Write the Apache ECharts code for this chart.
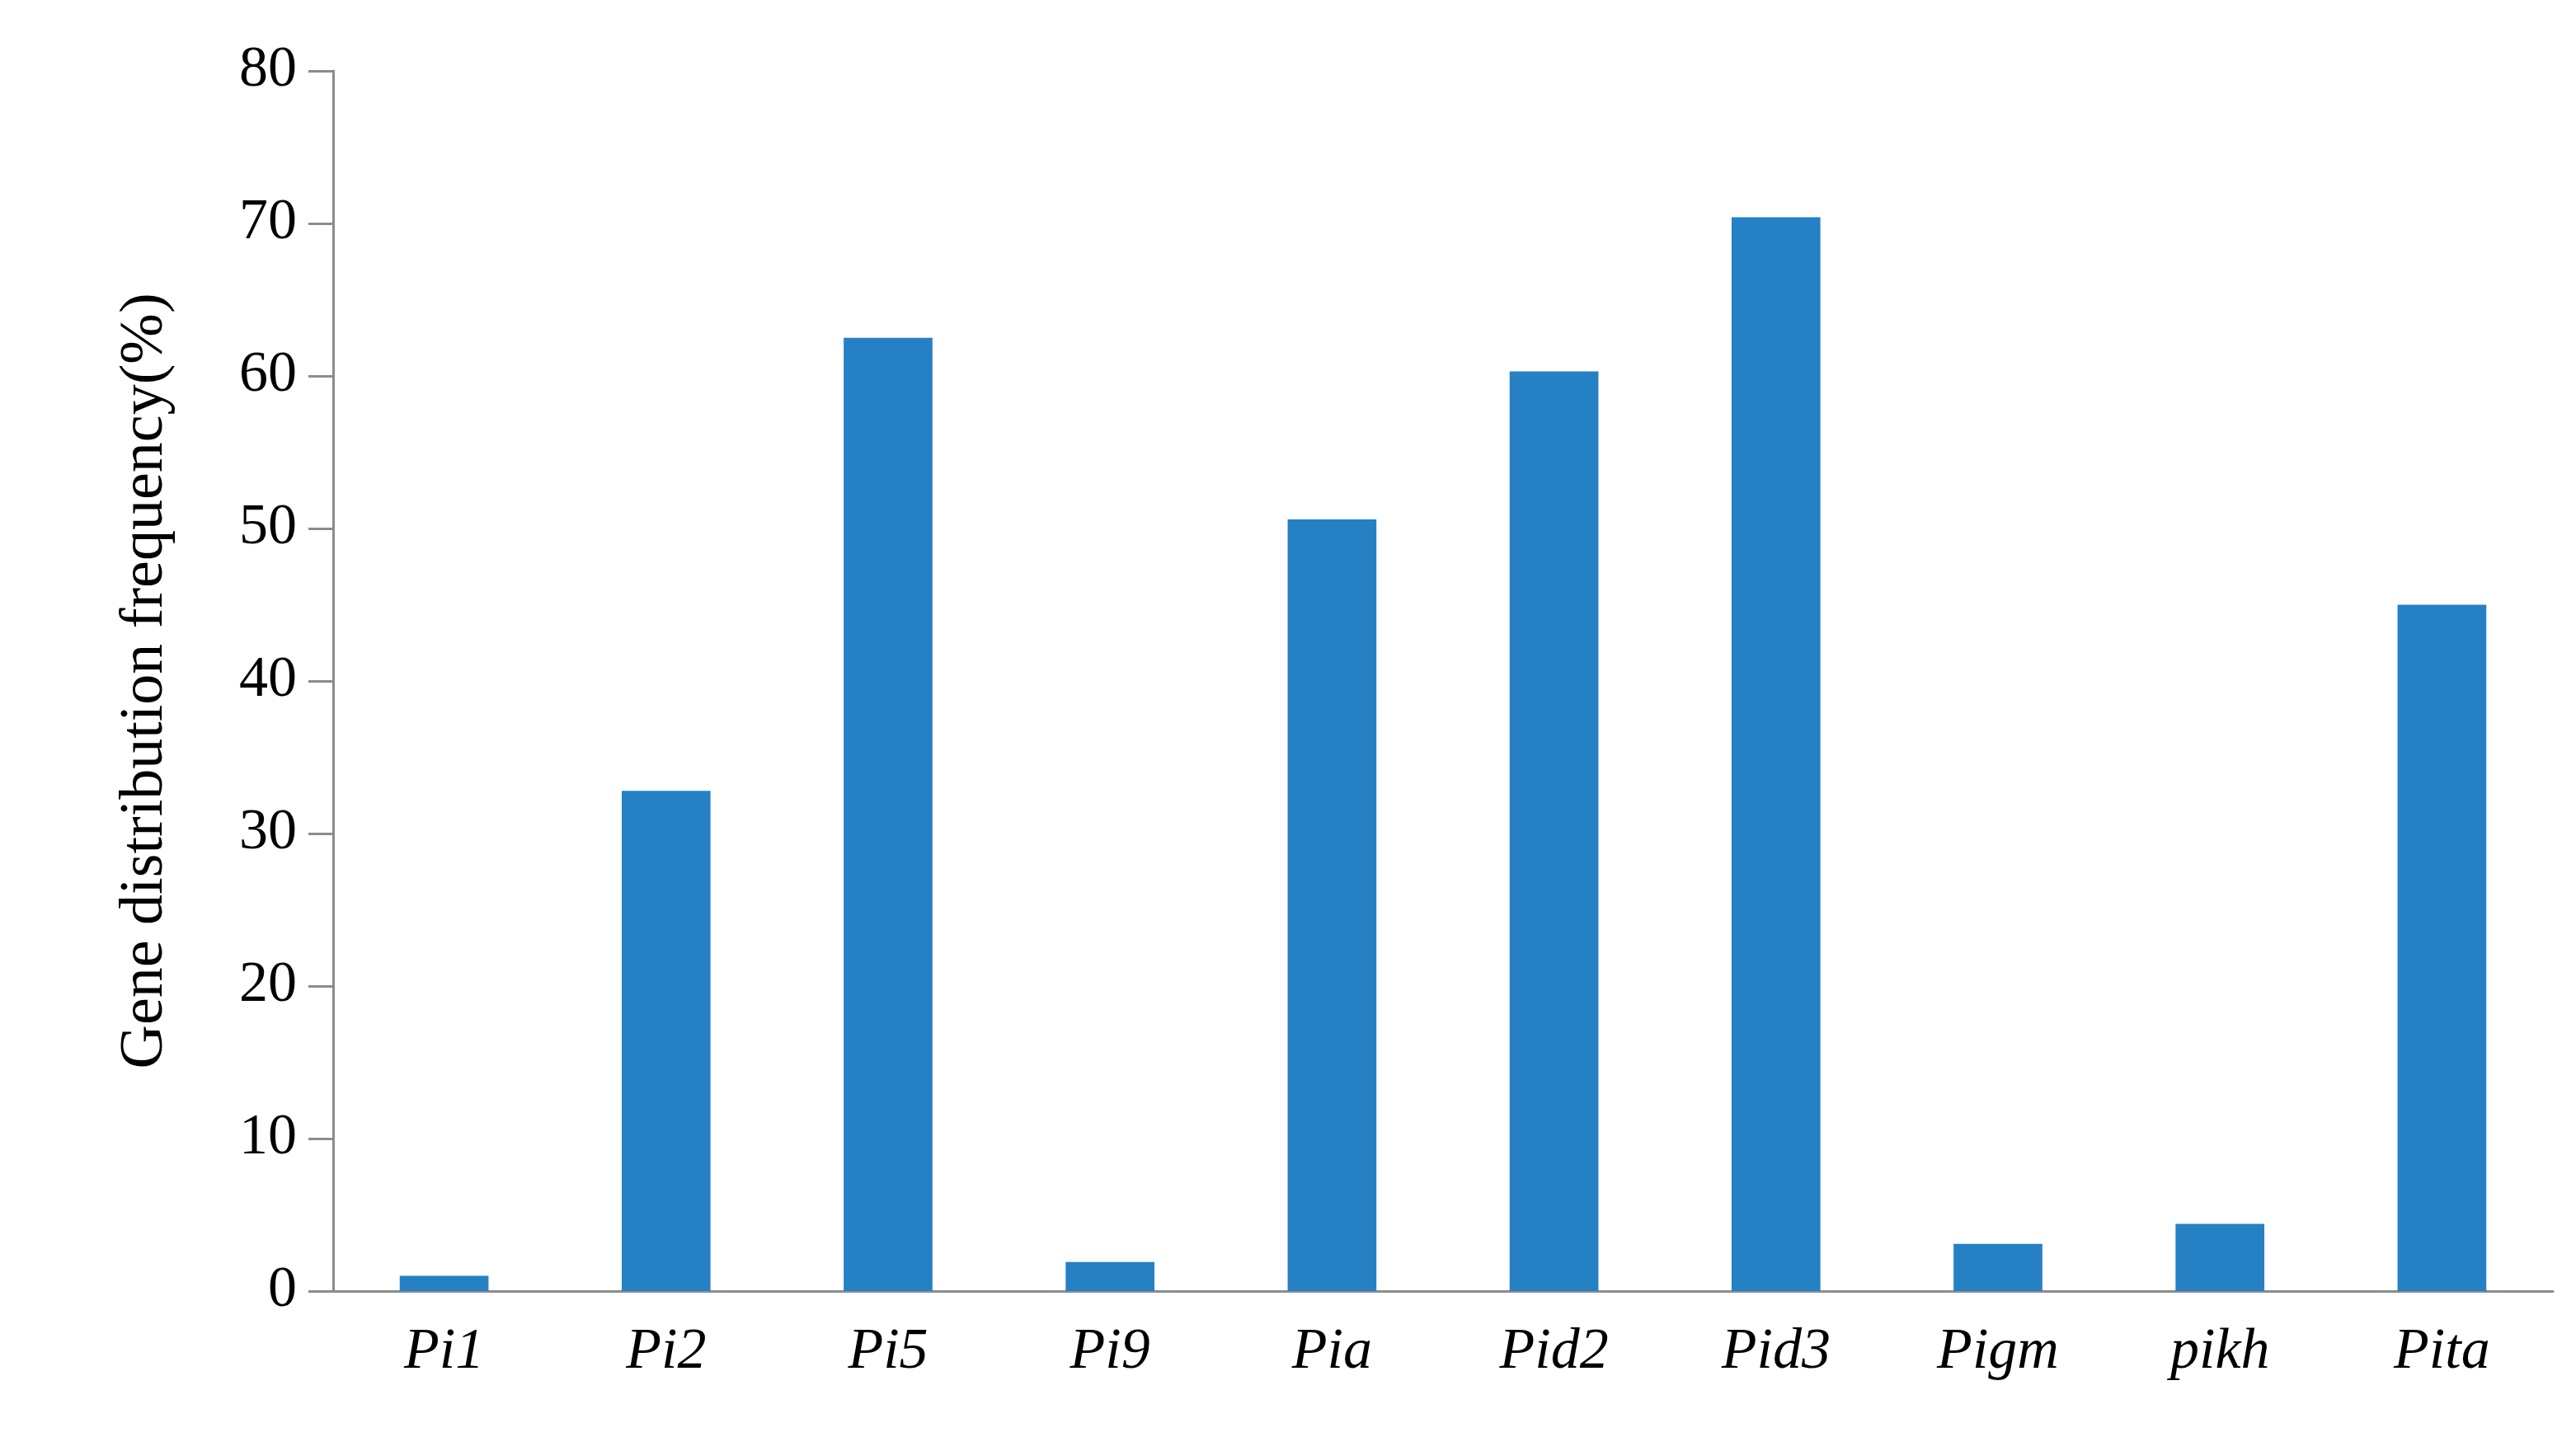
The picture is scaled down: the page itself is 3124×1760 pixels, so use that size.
<!DOCTYPE html>
<html>
<head>
<meta charset="utf-8">
<script src="https://cdn.jsdelivr.net/npm/echarts@6/dist/echarts.min.js"></script>
<style>html,body{margin:0;background:#fff}#c{width:3124px;height:1760px}</style>
</head>
<body>
<div id="c"></div>
<script>
const categories = ['Pi1', 'Pi2', 'Pi5', 'Pi9', 'Pia', 'Pid2', 'Pid3', 'Pigm', 'pikh', 'Pita']
const frequency = [1.0, 32.8, 62.5, 1.9, 50.6, 60.3, 70.4, 3.1, 4.4, 45.0]

const font = 'Liberation Serif'
const chart = echarts.init(document.getElementById('c'))
chart.setOption({
  animation: false,
  grid: {left: 404, right: 28, top: 86, bottom: 194},
  xAxis: {
    type: 'category',
    data: categories,
    axisLine: {lineStyle: {color: '#8c8c8c', width: 3}},
    axisTick: {length: 30, lineStyle: {color: '#8c8c8c', width: 3}},
    axisLabel: {fontFamily: font, fontStyle: 'italic', fontSize: 70, color: '#000', margin: 40}
  },
  yAxis: {
    type: 'value',
    min: 0, max: 80, interval: 10,
    name: 'Gene distribution frequency(%)',
    nameLocation: 'middle',
    nameGap: 190,
    nameTextStyle: {fontFamily: font, fontSize: 74, color: '#000'},
    splitLine: {show: false},
    axisLine: {show: true, lineStyle: {color: '#8c8c8c', width: 3}},
    axisTick: {show: true, length: 30, lineStyle: {color: '#8c8c8c', width: 3}},
    axisLabel: {fontFamily: font, fontSize: 70, color: '#000', margin: 44}
  },
  series: [{
    type: 'bar',
    data: frequency,
    barWidth: '40%',
    itemStyle: {color: '#2581c4'}
  }]
})
</script>
</body>
</html>
